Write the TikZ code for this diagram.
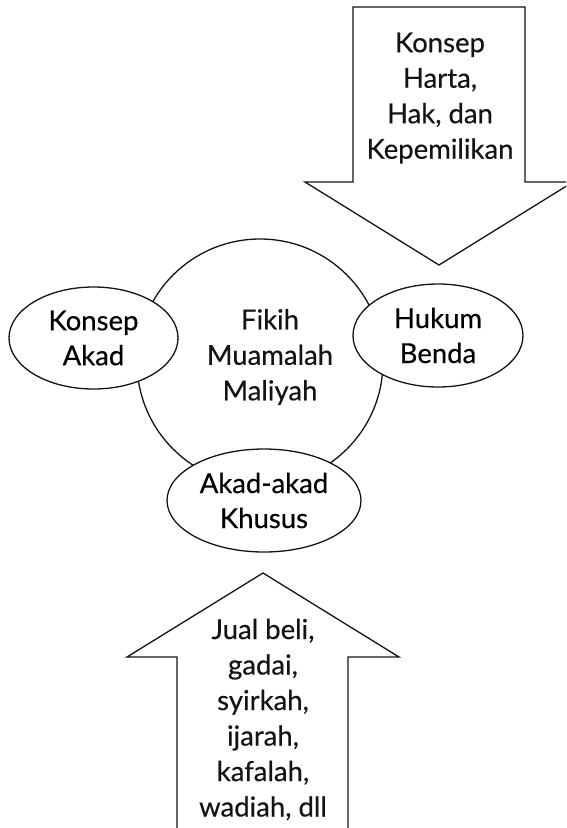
\documentclass[tikz,border=0pt]{standalone}
\usepackage{fontspec}
\setmainfont{Lato}[FakeBold=0.35]
\usepackage{tikz}
\usetikzlibrary{shapes.geometric}
\definecolor{ink}{gray}{0.08}

\tikzset{
  outline/.style={draw=ink, line width=1.3pt, fill=white, line join=miter},
  bubble/.style={outline, ellipse, inner sep=0pt, align=center,
    font=\fontsize{27.5}{35}\selectfont},
  label/.style={align=center, text=ink, inner sep=0pt,
    font=\fontsize{27.5}{35.5}\selectfont}
}

\begin{document}
\begin{tikzpicture}[x=1pt, y=-1pt]
  \useasboundingbox (0,0) rectangle (566,828);
  \clip (0,0) rectangle (566,828);

  \draw[outline] (353,7) -- (525,7) -- (525,182) -- (573,182) -- (439,265)
    -- (305,182) -- (353,182) -- cycle;
  \node[label] (harta) at (440,98) {Konsep\\Harta,\\Hak, dan\\Kepemilikan};

  \draw[outline] (177,840) -- (177,657) -- (127,657) -- (263,573)
    -- (399,657) -- (348,657) -- (348,840);
  \node[label] (contoh) at (263,719.5) {Jual beli,\\gadai,\\syirkah,\\ijarah,\\kafalah,\\wadiah, dll};

  \node[outline, circle, minimum size=246pt, inner sep=0pt] (fikih) at (260,362) {};
  \node[label] (fikihtext) at (270,357) {Fikih\\Muamalah\\Maliyah};

  \node[bubble, minimum width=169pt, minimum height=102pt] (akad) at (93.5,338) {Konsep\\Akad};
  \node[bubble, minimum width=170pt, minimum height=103pt] (benda) at (438,335.5) {Hukum\\Benda};
  \node[bubble, minimum width=194pt, minimum height=103pt] (khusus) at (264,500.5) {Akad-akad\\Khusus};
\end{tikzpicture}
\end{document}
